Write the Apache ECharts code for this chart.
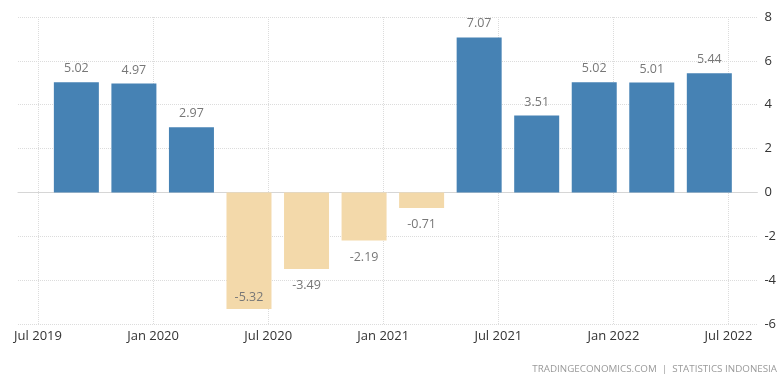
<!DOCTYPE html>
<html>
<head>
<meta charset="utf-8">
<script src="https://cdn.jsdelivr.net/npm/echarts@6/dist/echarts.min.js"></script>
<style>
html,body{margin:0;padding:0;background:#fff;}
#chart{width:779px;height:377px;}
</style>
</head>
<body>
<div id="chart"></div>
<script>
// Quarter-end months of each observation
var quarters = ['2019-09','2019-12','2020-03','2020-06','2020-09','2020-12','2021-03','2021-06','2021-09','2021-12','2022-03','2022-06'];
var values = [5.02, 4.97, 2.97, -5.32, -3.49, -2.19, -0.71, 7.07, 3.51, 5.02, 5.01, 5.44];
var xTickLabels = ['Jul 2019','Jan 2020','Jul 2020','Jan 2021','Jul 2021','Jan 2022','Jul 2022'];
var yTicks = [-6, -4, -2, 0, 2, 4, 6, 8];
var sourceText = 'TRADINGECONOMICS.COM  |  STATISTICS INDONESIA';

// months since Jul 2019
function monthIndex(s){
  var p = s.split('-');
  return (parseInt(p[0],10) - 2019) * 12 + (parseInt(p[1],10) - 7);
}

var POS = '#4682b4', NEG = '#f3d9aa';
var FONT = 'Open Sans';

var barData = quarters.map(function(q, i){
  var v = values[i];
  var pos, dist;
  if (v >= 0) { pos = 'top'; dist = 7; }
  else if (v < -5) { pos = 'insideBottom'; dist = 5; }
  else { pos = 'bottom'; dist = 10; }
  return {
    value: [monthIndex(q), v],
    itemStyle: { color: v >= 0 ? POS : NEG },
    label: { position: pos, distance: dist }
  };
});

var chart = echarts.init(document.getElementById('chart'));
chart.setOption({
  animation: false,
  backgroundColor: '#fff',
  textStyle: { fontFamily: FONT },
  grid: [
    { left: 38, right: 50.5, top: 17, bottom: 53 },
    { left: 18, right: 19, top: 17, bottom: 53 }
  ],
  xAxis: [
    {
      type: 'value', gridIndex: 0, min: 0, max: 36, interval: 6,
      position: 'bottom',
      axisLine: { show: false }, axisTick: { show: false },
      axisLabel: {
        color: '#333', fontSize: 13, fontFamily: FONT, margin: 6,
        formatter: function(v){ return xTickLabels[Math.round(v / 6)] || ''; }
      },
      splitLine: { show: true, lineStyle: { color: '#dcdcdc', type: 'dotted', width: 1 } }
    },
    {
      type: 'value', gridIndex: 1, min: 0, max: 1,
      axisLine: { show: true, onZero: true, lineStyle: { color: '#d6d6d6', width: 1 } },
      axisTick: { show: false }, axisLabel: { show: false }, splitLine: { show: false }
    }
  ],
  yAxis: [
    {
      type: 'value', gridIndex: 0, min: yTicks[0], max: yTicks[yTicks.length - 1], interval: 2,
      axisLine: { show: false }, axisTick: { show: false }, axisLabel: { show: false },
      splitLine: { show: false }
    },
    {
      type: 'value', gridIndex: 1, position: 'right',
      min: yTicks[0], max: yTicks[yTicks.length - 1], interval: 2,
      axisLine: { show: false }, axisTick: { show: false },
      axisLabel: { color: '#333', fontSize: 13, fontFamily: FONT, margin: 7 },
      splitLine: { show: true, lineStyle: { color: '#dcdcdc', type: 'dotted', width: 1 } }
    }
  ],
  series: [
    {
      type: 'bar', xAxisIndex: 0, yAxisIndex: 0,
      barWidth: 45,
      data: barData,
      label: {
        show: true, color: '#777', fontSize: 12.5, fontFamily: FONT,
        formatter: function(p){ return p.value[1].toFixed(2); }
      }
    }
  ],
  graphic: [
    {
      type: 'text', right: 2, top: 364,
      style: { text: sourceText, fill: '#9a9a9a', font: '9.8px "Open Sans"' }
    }
  ]
});
</script>
</body>
</html>
